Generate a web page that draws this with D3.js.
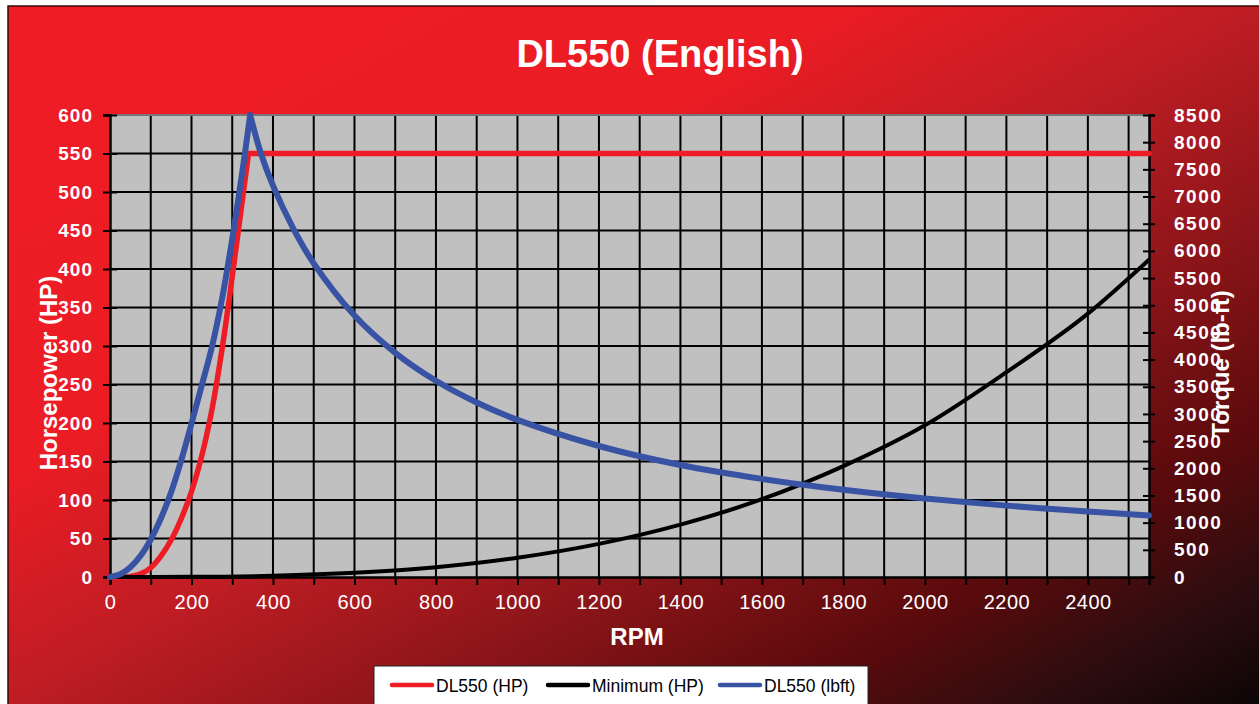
<!DOCTYPE html>
<html>
<head>
    <title>DL550 (English)</title>
    <script src="https://d3js.org/d3.v7.min.js"></script>
    <style>
        body { margin: 0; background: #fff; }
        text { font-family: "Liberation Sans", Arial, sans-serif; }
    </style>
</head>
<body>
    <div id="chart"></div>

    <script>
        // torque curve (lb-ft)
        const rpmTorque = [0, 25, 50, 75, 100, 125, 150, 175, 200, 225, 250, 275, 300, 325, 344,
                           370, 400, 450, 500, 600, 700, 800, 900, 1000, 1200, 1400, 1600, 1800,
                           2000, 2200, 2400, 2550];
        const torque = [0, 50, 180, 390, 690, 1080, 1560, 2150, 2820, 3520, 4230, 5120, 6220, 7470, 8500,
                        7800, 7200, 6410, 5770, 4810, 4125, 3610, 3210, 2890, 2410, 2060, 1805, 1605,
                        1445, 1313, 1204, 1133];

        // DL550 horsepower
        const rpmHp = [0, 40, 75, 100, 125, 150, 175, 200, 225, 250, 275, 300, 320, 340, 2550];
        const hp = [0, 0, 4, 12, 27, 48, 76, 111, 157, 217, 296, 390, 470, 550, 550];

        // minimum required horsepower
        const rpmMin = [0, 200, 400, 600, 800, 1000, 1200, 1400, 1600, 1800, 2000, 2200, 2400, 2550];
        const minHp = [0, 0.2, 1.6, 5.4, 12.7, 25, 43, 68, 101, 144, 197, 266, 342, 412];

        const xTicks = d3.range(0, 2501, 100);
        const yLeftTicks = d3.range(0, 601, 50);
        const yRightTicks = d3.range(0, 8501, 500);

        const W = 1259, H = 704;
        const plot = {left: 110, right: 1149, top: 115, bottom: 577};

        const svg = d3.select("#chart").append("svg")
            .attr("width", W)
            .attr("height", H);

        const defs = svg.append("defs");
        const grad = defs.append("linearGradient")
            .attr("id", "bg")
            .attr("x1", 0).attr("y1", 0).attr("x2", 1).attr("y2", 1);
        [[0, "#ee1c25"], [0.33, "#ec1c24"], [0.5, "#bd1d24"], [0.65, "#8c1519"],
         [0.8, "#5a0a0c"], [0.9, "#2e0d0f"], [1, "#0a0505"]].forEach(s => {
            grad.append("stop").attr("offset", s[0]).attr("stop-color", s[1]);
        });

        svg.append("rect")
            .attr("x", 8).attr("y", 6)
            .attr("width", W).attr("height", H)
            .attr("fill", "url(#bg)")
            .attr("stroke", "#3a0808")
            .attr("stroke-width", 1.5);

        const x = d3.scaleLinear().domain([0, 2550]).range([plot.left, plot.right]);
        const yL = d3.scaleLinear().domain([0, 600]).range([plot.bottom, plot.top]);
        const yR = d3.scaleLinear().domain([0, 8500]).range([plot.bottom, plot.top]);

        // plot area
        svg.append("rect")
            .attr("x", plot.left).attr("y", plot.top)
            .attr("width", plot.right - plot.left)
            .attr("height", plot.bottom - plot.top)
            .attr("fill", "#c0c0c0");

        // grid
        const grid = svg.append("g").attr("stroke", "#000").attr("stroke-width", 2);
        grid.selectAll(".vg")
            .data(xTicks.filter(d => d > 0))
            .join("line")
              .attr("x1", d => x(d)).attr("x2", d => x(d))
              .attr("y1", plot.top).attr("y2", plot.bottom);
        grid.selectAll(".hg")
            .data(yLeftTicks.filter(d => d > 0 && d < 600))
            .join("line")
              .attr("x1", plot.left).attr("x2", plot.right)
              .attr("y1", d => yL(d)).attr("y2", d => yL(d));
        svg.append("line")
            .attr("x1", plot.left).attr("x2", plot.right)
            .attr("y1", plot.top).attr("y2", plot.top)
            .attr("stroke", "#777").attr("stroke-width", 2);

        // axes
        const axL = svg.append("g")
            .attr("transform", "translate(" + plot.left + ",0)")
            .call(d3.axisLeft(yL).tickValues(yLeftTicks).tickSize(7).tickPadding(10));
        axL.selectAll(".tick line").attr("x2", -7).attr("x1", 7).attr("stroke-width", 2);

        const axR = svg.append("g")
            .attr("transform", "translate(" + plot.right + ",0)")
            .call(d3.axisRight(yR).tickValues(yRightTicks).tickSize(6).tickPadding(19)
                .tickFormat(d3.format("d")));
        axR.selectAll(".tick line").attr("x1", -6).attr("x2", 6).attr("stroke-width", 2);

        const axB = svg.append("g")
            .attr("transform", "translate(0," + plot.bottom + ")")
            .call(d3.axisBottom(x).tickValues(xTicks).tickSize(8).tickPadding(10)
                .tickFormat(d => d % 200 === 0 ? d : ""));
        axB.selectAll(".tick line").attr("stroke-width", 2);

        [axL, axR, axB].forEach(a => {
            a.select(".domain").attr("stroke", "#000").attr("stroke-width", 2.5);
            a.selectAll(".tick line").attr("stroke", "#000");
        });
        axL.selectAll("text").attr("fill", "#fff").attr("font-size", 19)
            .attr("font-weight", "bold").style("letter-spacing", "1px")
            .attr("font-family", "Liberation Sans, Arial, sans-serif");
        axR.selectAll("text").attr("fill", "#fff").attr("font-size", 19)
            .attr("font-weight", "bold").style("letter-spacing", "1.5px")
            .attr("font-family", "Liberation Sans, Arial, sans-serif");
        axB.selectAll("text").attr("fill", "#fff").attr("font-size", 20)
            .style("letter-spacing", "0.5px")
            .attr("font-family", "Liberation Sans, Arial, sans-serif");

        // series: split at the peak so the corner stays sharp
        function segPath(xs, ys, yScale) {
            const pts = xs.map((v, i) => [x(v), yScale(ys[i])]);
            const k = d3.maxIndex(ys);
            const line = d3.line().curve(d3.curveCatmullRom.alpha(0.5));
            return line(pts.slice(0, k + 1)) + line(pts.slice(k));
        }

        svg.append("path")
            .attr("d", segPath(rpmHp, hp, yL))
            .attr("fill", "none").attr("stroke", "#ee1c25").attr("stroke-width", 5.5)
            .attr("stroke-linejoin", "round").attr("stroke-linecap", "round");

        svg.append("path")
            .attr("d", d3.line().curve(d3.curveMonotoneX)(rpmMin.map((v, i) => [x(v), yL(minHp[i])])))
            .attr("fill", "none").attr("stroke", "#000").attr("stroke-width", 4)
            .attr("stroke-linecap", "round");

        svg.append("path")
            .attr("d", segPath(rpmTorque, torque, yR))
            .attr("fill", "none").attr("stroke", "#3953a4").attr("stroke-width", 6)
            .attr("stroke-linejoin", "round").attr("stroke-linecap", "round");

        // titles
        svg.append("text")
            .attr("x", 660).attr("y", 67)
            .attr("text-anchor", "middle")
            .attr("fill", "#fff").attr("font-size", 38).attr("font-weight", "bold")
            .text("DL550 (English)");

        svg.append("text")
            .attr("x", 637).attr("y", 645)
            .attr("text-anchor", "middle")
            .attr("fill", "#fff").attr("font-size", 24).attr("font-weight", "bold")
            .text("RPM");

        svg.append("text")
            .attr("transform", "translate(57,373) rotate(-90)")
            .attr("text-anchor", "middle")
            .attr("fill", "#fff").attr("font-size", 24).attr("font-weight", "bold")
            .text("Horsepower (HP)");

        svg.append("text")
            .attr("transform", "translate(1229,364) rotate(-90)")
            .attr("text-anchor", "middle")
            .attr("fill", "#fff").attr("font-size", 24).attr("font-weight", "bold")
            .text("Torque (lb-ft)");

        // legend
        const legendItems = [
            {label: "DL550 (HP)", color: "#ee1c25", x: 392},
            {label: "Minimum (HP)", color: "#000", x: 548},
            {label: "DL550 (lbft)", color: "#3953a4", x: 720}
        ];
        svg.append("rect")
            .attr("x", 374).attr("y", 666)
            .attr("width", 494).attr("height", 60)
            .attr("fill", "#fff").attr("stroke", "#222").attr("stroke-width", 1);
        const lg = svg.selectAll(".lg")
            .data(legendItems)
            .join("g")
              .attr("transform", d => "translate(" + d.x + ",685)");
        lg.append("line")
            .attr("x1", 0).attr("x2", 40)
            .attr("stroke", d => d.color).attr("stroke-width", 4.5)
            .attr("stroke-linecap", "round");
        lg.append("text")
            .attr("x", 44).attr("y", 6.5)
            .attr("fill", "#000").attr("font-size", 17.5)
            .text(d => d.label);
    </script>
</body>
</html>
